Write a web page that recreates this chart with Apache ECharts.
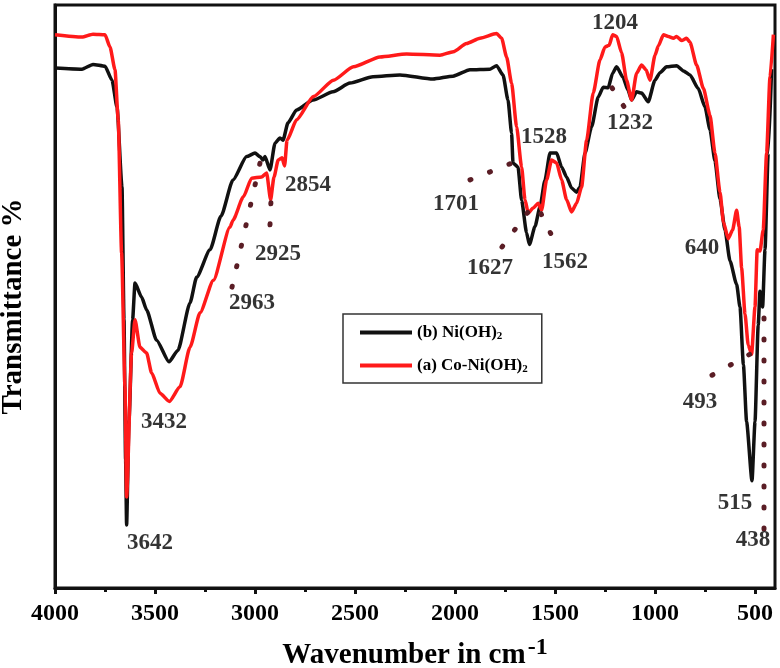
<!DOCTYPE html>
<html><head><meta charset="utf-8">
<script src="https://cdn.jsdelivr.net/npm/echarts@6/dist/echarts.min.js"></script>
<style>html,body{margin:0;padding:0;background:#fff}#c{width:780px;height:668px}</style>
</head><body><div id="c"></div>
<script>
const FONT = '"Liberation Serif","Times New Roman",serif';

// (b) Ni(OH)2 — black
const niWn = [4000,3865,3810,3750,3715,3690,3665,3655,3647,3642,3630,3612,3600,3567,3542,3492,3430,3385,3325,3292,3225,3170,3110,3042,3000,2975,2960,2950,2925,2900,2875,2860,2835,2792,2710,2610,2525,2410,2275,2110,2010,1925,1825,1792,1760,1735,1717,1710,1685,1667,1642,1628,1600,1575,1550,1525,1492,1467,1442,1417,1392,1375,1350,1317,1284,1259,1234,1212,1192,1160,1135,1117,1092,1067,1034,1000,975,942,892,858,825,784,750,725,700,675,650,625,592,575,558,542,515,500,484,475,462,450,434,417];
const niT  = [89.2,89.0,89.8,89.5,87.1,82.5,68.8,46.0,22.0,10.8,28.8,46.0,52.3,49.9,47.7,42.5,38.8,40.8,48.9,53.3,58.0,63.8,70.0,74.0,74.6,74.0,73.4,74.0,71.7,76.3,77.2,76.8,79.8,82.0,83.7,85.1,86.6,87.7,88.0,87.3,87.8,88.9,89.0,89.6,88.0,83.7,78.0,72.9,72.2,66.5,60.9,58.9,62.0,65.4,70.0,74.6,74.6,72.2,70.5,68.6,67.9,68.8,74.6,79.1,84.2,85.9,85.8,88.3,89.4,87.6,85.4,83.7,85.1,84.9,83.4,87.1,88.4,89.4,89.6,88.7,88.0,85.7,82.5,78.6,73.2,66.7,61.4,56.1,52.1,48.2,38.3,28.5,18.4,28.5,45.1,50.9,48.2,58.0,74.6,89.0];

// (a) Co-Ni(OH)2 — red
const coWn = [4000,3865,3810,3750,3725,3700,3684,3667,3650,3642,3617,3600,3575,3542,3517,3475,3428,3375,3325,3275,3208,3125,3110,3058,3017,2967,2942,2922,2905,2884,2865,2852,2840,2792,2708,2608,2508,2375,2242,2075,2008,1942,1875,1792,1767,1742,1717,1692,1667,1650,1634,1609,1584,1567,1542,1517,1492,1467,1442,1417,1392,1367,1342,1309,1275,1250,1229,1212,1192,1167,1142,1117,1092,1067,1045,1025,1000,983,958,933,908,892,867,842,825,792,758,725,700,675,658,634,612,592,579,567,550,534,517,500,489,475,459,442,425,408];
const coT  = [94.9,94.5,95.0,94.9,92.8,88.9,80.3,57.5,34.5,15.6,40.3,46.0,41.3,40.3,36.9,33.4,32.0,34.5,41.3,47.2,52.8,61.9,63.1,67.1,70.3,70.5,71.2,66.6,70.5,73.4,73.8,72.4,76.8,80.3,84.3,87.1,89.4,91.1,91.6,91.4,92.0,93.4,94.3,95.1,94.3,91.1,86.6,79.1,72.2,66.6,64.3,65.2,66.0,64.8,70.0,73.4,72.9,70.0,66.6,64.5,66.0,68.8,76.8,84.9,90.6,92.8,93.1,94.9,94.6,91.8,87.1,83.7,88.3,89.7,88.9,87.1,91.4,93.0,94.9,94.6,94.3,94.6,93.9,94.3,93.6,89.7,85.7,81.1,74.6,67.9,62.8,59.9,61.4,64.8,61.9,54.9,47.0,41.7,40.1,48.2,58.0,57.8,61.4,74.6,87.7,94.9];

const tickValues = [4000,3500,3000,2500,2000,1500,1000,500];
const minorTickValues = [3750,3250,2750,2250,1750,1250,750];

// peak annotations: text and its anchor position (wavenumber, %T)
const peakText = ['3642','3432','2963','2925','2854','1701','1627','1562','1528','1204','1232','640','493','515','438'];
const peakWn   = [3525,3455,3015,2885,2735,1995,1825,1450,1555,1200,1125,765,775,600,510];
const peakT    = [7.7,28.5,48.9,57.3,69.1,65.9,54.9,55.9,77.4,96.9,79.8,58.3,31.9,14.6,8.2];

// dotted leader lines (start, end) in wavenumber / %T
const leaders = [
  [[3115,51.6],[2975,72.9]],
  [[2925,62.3],[2920,66.6]],
  [[1925,70.0],[1700,73.1]],
  [[1765,58.5],[1635,64.5]],
  [[1570,64.2],[1510,60.0]],
  [[1215,85.8],[1150,82.3]],
  [[715,36.5],[515,40.3]],
  [[455,46.3],[455,9.6]]
];

const chart = echarts.init(document.getElementById('c'));
const boldText = {fontFamily: FONT, fontWeight: 'bold', color: '#000'};

const series = [
  {name: 'Ni(OH)2', type: 'line', color: '#111', symbol: 'none', smooth: 0.2, smoothMonotone: 'x',
   lineStyle: {width: 3.5}, data: niWn.map((w, i) => [w, niT[i]]), z: 3},
  {name: 'Co-Ni(OH)2', type: 'line', color: '#ff1a1a', symbol: 'none', smooth: 0.2, smoothMonotone: 'x',
   lineStyle: {width: 3.5}, data: coWn.map((w, i) => [w, coT[i]]), z: 4}
];
leaders.forEach(seg => series.push({
  type: 'line', symbol: 'none', silent: true, data: seg, z: 5,
  lineStyle: {color: '#5a1d25', width: 5, type: [1, 20], cap: 'round'}
}));
series.push({
  type: 'scatter', symbolSize: 0, silent: true, z: 6,
  data: peakText.map((t, i) => ({value: [peakWn[i], peakT[i]], label: {formatter: t}})),
  label: {show: true, position: 'inside', ...boldText, fontSize: 23}
});

chart.setOption({
  animation: false,
  backgroundColor: '#fff',
  grid: {left: 55, right: 5, top: 5, bottom: 80, show: true, borderColor: '#111', borderWidth: 3,
         containLabel: false, outerBoundsMode: 'none'},
  legend: {
    orient: 'vertical', left: 343, top: 314,
    data: ['Ni(OH)2', 'Co-Ni(OH)2'],
    icon: 'rect', itemWidth: 52, itemHeight: 4, itemGap: 15, itemTextGap: 2,
    padding: [10, 14, 8, 17], borderColor: '#333', borderWidth: 1.5,
    formatter: n => n === 'Ni(OH)2' ? '(b) Ni(OH){s|2}' : '(a) Co-Ni(OH){s|2}',
    textStyle: {...boldText, fontSize: 17,
      rich: {s: {fontFamily: FONT, fontWeight: 'bold', color: '#000', fontSize: 11, padding: [8, 0, 0, 0]}}}
  },
  xAxis: [{
    type: 'value', min: 400, max: 4000, inverse: true,
    axisLine: {show: true, lineStyle: {color: '#111', width: 3}},
    axisTick: {show: true, customValues: tickValues, length: 6, lineStyle: {color: '#111', width: 3}},
    axisLabel: {customValues: tickValues, formatter: v => String(v), ...boldText, fontSize: 24, margin: 14},
    splitLine: {show: false},
    name: 'Wavenumber in cm{sup|-1}', nameLocation: 'middle', nameGap: 48,
    nameTextStyle: {...boldText, fontSize: 29,
      rich: {sup: {fontFamily: FONT, fontWeight: 'bold', color: '#000', fontSize: 24, padding: [0, 0, 16, 2]}}}
  }, {
    type: 'value', min: 400, max: 4000, inverse: true, position: 'bottom',
    axisLine: {show: false},
    axisTick: {show: true, customValues: minorTickValues, length: 4, lineStyle: {color: '#111', width: 3}},
    axisLabel: {show: false}, splitLine: {show: false}
  }],
  yAxis: {
    type: 'value', min: 0, max: 100,
    axisLine: {show: true, lineStyle: {color: '#111', width: 3}},
    axisTick: {show: false}, axisLabel: {show: false}, splitLine: {show: false},
    name: 'Transmittance %', nameLocation: 'middle', nameGap: 27,
    nameTextStyle: {...boldText, fontSize: 29, padding: [0, 20, 0, 0]}
  },
  series
});
</script>
</body></html>
